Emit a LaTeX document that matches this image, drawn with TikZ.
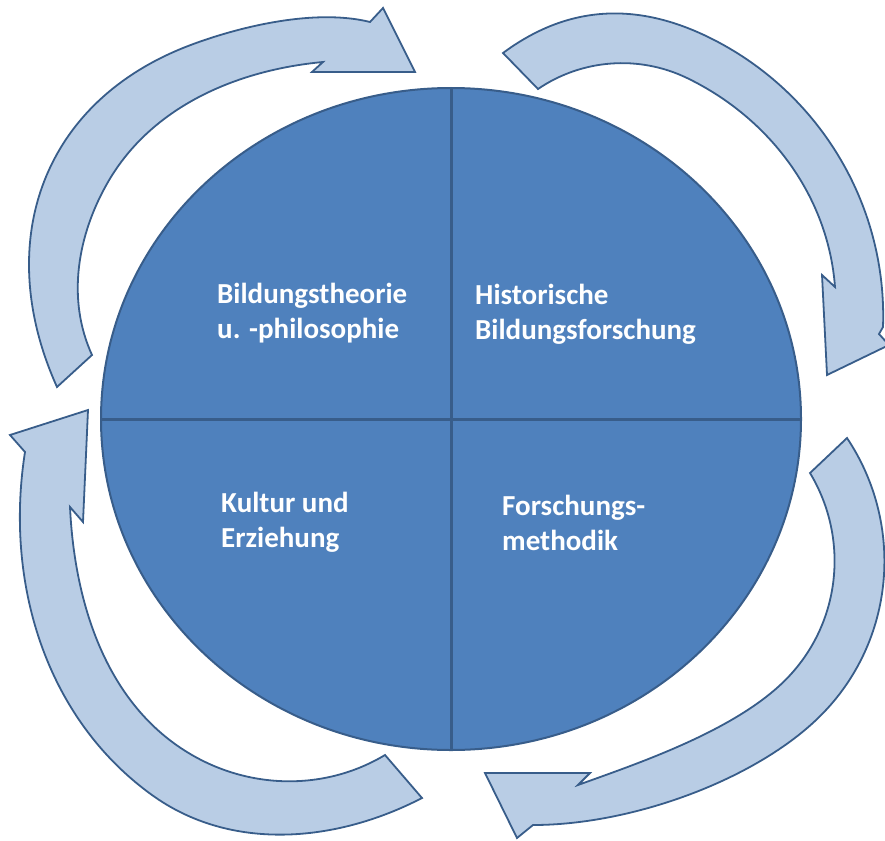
\documentclass[tikz,border=0pt]{standalone}
\usepackage{fontspec}
\setmainfont{Carlito}
\usetikzlibrary{shapes.geometric}

\definecolor{discblue}{HTML}{4F81BD}
\definecolor{rimblue}{HTML}{385D8A}
\definecolor{arrowblue}{HTML}{B9CDE5}

\tikzset{
  quarterlabel/.style={text=white,font=\bfseries\fontsize{29}{35}\selectfont,align=left,anchor=base west,inner sep=0pt},
  turnarrow/.style={fill=arrowblue,draw=rimblue,line width=1.8pt},
}

\begin{document}
\begin{tikzpicture}[x=1pt,y=-1pt]
    \useasboundingbox (0,0) rectangle (885,840);

    % disc with its four fields
    \node[ellipse,draw=rimblue,line width=2pt,fill=discblue,minimum width=700pt,minimum height=662pt,inner sep=0pt,outer sep=0pt] (disc) at (451,419) {};
    \draw[rimblue,line width=3pt] (disc.north) -- (disc.south);
    \draw[rimblue,line width=3pt] (disc.west) -- (disc.east);

    % base anchor sits on the last line
    \node[quarterlabel] (theorie) at (217,338) {Bildungstheorie\\u. -philosophie};
    \node[quarterlabel] (historisch) at (475,339) {Historische\\Bildungsforschung};
    \node[quarterlabel] (kultur) at (221,547) {Kultur und\\Erziehung};
    \node[quarterlabel] (methodik) at (502,550) {Forschungs-\\methodik};

    % upper left
    \draw[turnarrow] (57,387) .. controls (-6.6,246) and (39.3,106.1) .. (183,48)
      .. controls (221.9,32.3) and (307.4,6.5) .. (370,22)
      -- (383,8) -- (415,72) -- (312,72) -- (323,62)
      .. controls (236.3,70.1) and (151.5,106.7) .. (108,182)
      .. controls (77.3,235.2) and (66.5,299.2) .. (92,355)
      -- cycle;

    % upper right
    \draw[turnarrow] (503,53) .. controls (571.3,2.4) and (642.9,2.1) .. (718,42)
      .. controls (822.9,97.7) and (887.2,208.3) .. (883,327)
      -- (879,334) -- (889,345) -- (827,375) -- (822,275) -- (835,287)
      .. controls (828.2,195.8) and (769.4,117.8) .. (687,78)
      .. controls (638.9,54.8) and (582.2,59) .. (538,89)
      -- cycle;

    % lower right
    \draw[turnarrow] (847,438) .. controls (905.2,525.3) and (894.8,641.4) .. (820.6,715.6)
      .. controls (757,779.2) and (633,825) .. (533,825)
      -- (517,838) -- (485,773) -- (590,773) -- (578,785)
      .. controls (634.4,764.5) and (733.6,731.8) .. (785.2,680.2)
      .. controls (840.4,625) and (850.2,539.8) .. (810,473)
      -- cycle;

    % lower left
    \draw[turnarrow] (422,798) .. controls (335.7,842.7) and (230.8,851.9) .. (152,795)
      .. controls (45.2,718) and (4.5,582.1) .. (25,452)
      -- (10,435) -- (88,410) -- (83,522) -- (70,507)
      .. controls (74.6,604.9) and (107.1,706) .. (192,755)
      .. controls (251.8,789.6) and (325.8,790.5) .. (385,755)
      -- cycle;
\end{tikzpicture}
\end{document}
